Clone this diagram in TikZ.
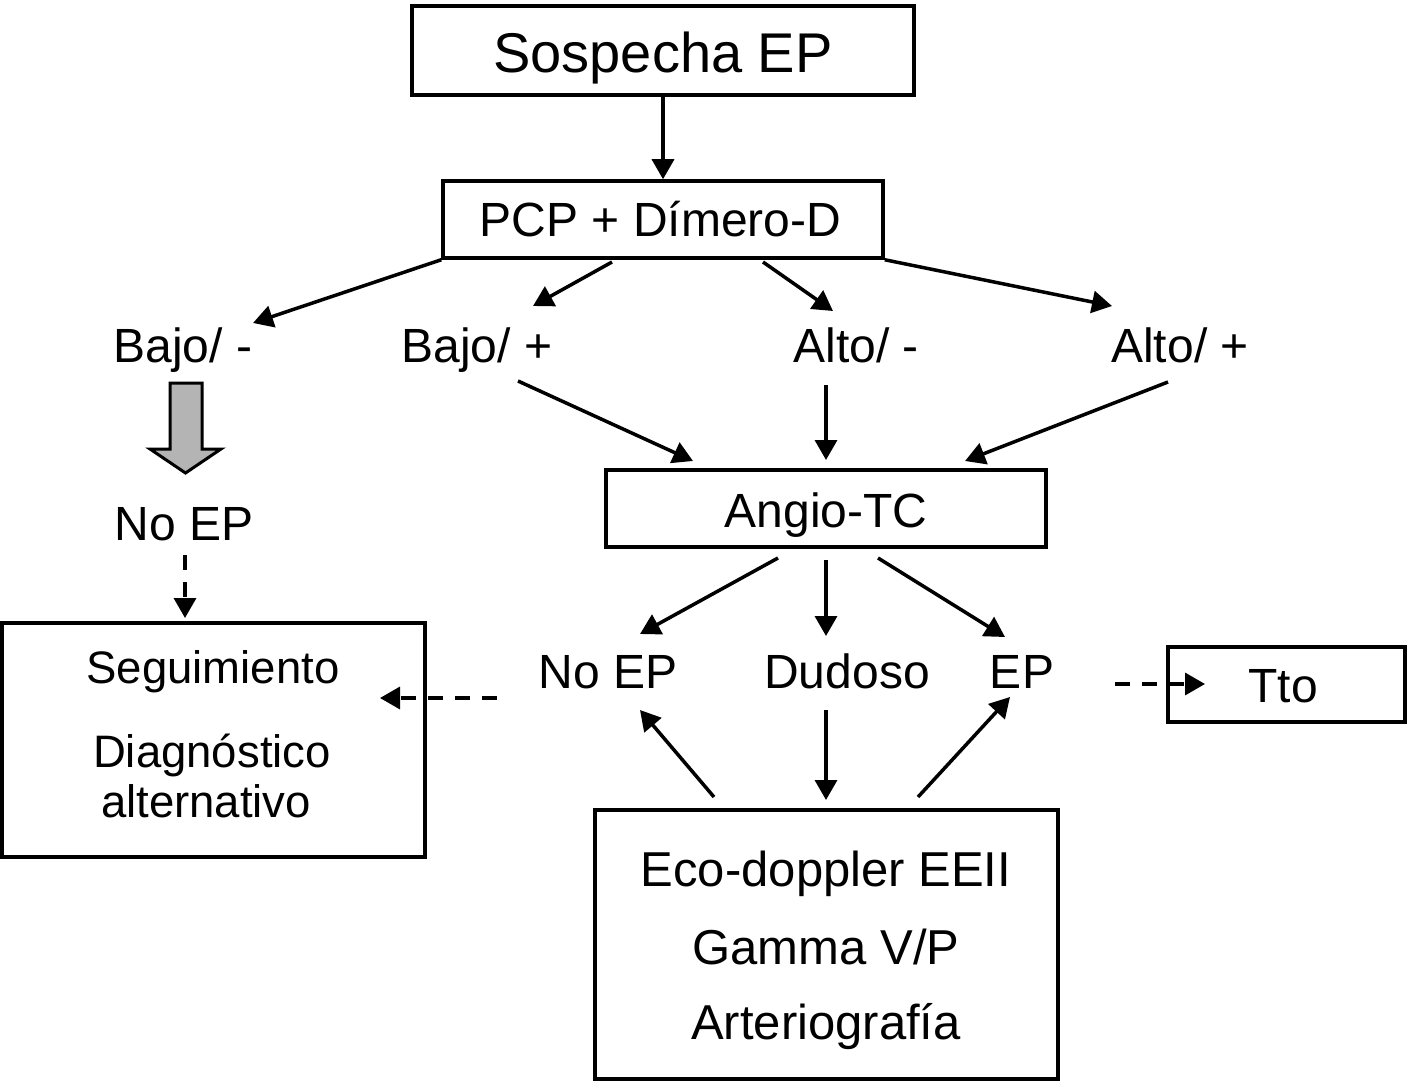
\documentclass[tikz,border=0pt]{standalone}
\usepackage{fontspec}
\setmainfont{Liberation Sans}
\usetikzlibrary{arrows.meta}
\begin{document}
\begin{tikzpicture}[x=1pt,y=-1pt,
  box/.style={draw, line width=3.5pt, inner sep=0pt, text depth=0pt},
  lbl/.style={anchor=base, inner sep=0pt},
  arr/.style={line width=3.5pt, -{Triangle[length=20pt,width=22pt]}},
  darr/.style={arr, dash pattern=on 15pt off 12pt},
  every node/.style={font=\fontsize{48}{52}\selectfont}]
\useasboundingbox (0,0) rectangle (1410,1083);
% boxes
\node[box, minimum width=502pt, minimum height=89pt, text height=45pt, font=\fontsize{56}{60}\selectfont] (sosp) at (663,50.5) {Sospecha EP};
\node[box, minimum width=440pt, minimum height=77pt, text height=35pt] (pcp) at (663,219.5) {\hspace*{-5pt}PCP + Dímero-D};
\node[box, minimum width=440pt, minimum height=77pt, text height=37pt] (angio) at (826,508.5) {Angio-TC};
\node[box, minimum width=237pt, minimum height=75pt, text height=35pt] (tto) at (1286.5,684.5) {\hspace*{-7pt}Tto};
\node[box, minimum width=423pt, minimum height=234pt] (seg) at (213.5,740) {};
\node[box, minimum width=463pt, minimum height=269pt] (prue) at (826.5,944.5) {};
% box texts
\node[lbl, font=\fontsize{45.5}{48}\selectfont] (seg1) at (213,683) {Seguimiento};
\node[lbl, font=\fontsize{45.5}{48}\selectfont] (seg2) at (212,767) {Diagnóstico};
\node[lbl, font=\fontsize{45.5}{48}\selectfont] (seg3) at (206,817) {alternativo};
\node[lbl, font=\fontsize{49}{52}\selectfont] (pr1) at (826,886) {Eco-doppler EEII};
\node[lbl, font=\fontsize{49}{52}\selectfont] (pr2) at (826,964) {Gamma V/P};
\node[lbl, font=\fontsize{49}{52}\selectfont] (pr3) at (826,1039) {Arteriografía};
% labels
\node[lbl] (bm) at (183,362) {Bajo/ -};
\node[lbl] (bp) at (477,362) {Bajo/ +};
\node[lbl] (am) at (856,362) {Alto/ -};
\node[lbl] (ap) at (1180,362) {Alto/ +};
\node[lbl] (noep1) at (184,540) {No EP};
\node[lbl] (noep2) at (608,688) {No EP};
\node[lbl] (dud) at (847,688) {Dudoso};
\node[lbl] (ep) at (1022,688) {EP};
% coordinates
\coordinate (c1) at (253,323);
\coordinate (c2s) at (612,262); \coordinate (c2) at (533,306);
\coordinate (c3s) at (763,262); \coordinate (c3) at (833,311);
\coordinate (c4) at (1112,306);
\coordinate (d1s) at (518,381); \coordinate (d1) at (693,461);
\coordinate (d2s) at (826,385); \coordinate (d2) at (826,460);
\coordinate (d3s) at (1168,382); \coordinate (d3) at (965,461);
\coordinate (e1s) at (778,558); \coordinate (e1) at (640,634);
\coordinate (e2s) at (826,560); \coordinate (e2) at (826,636);
\coordinate (e3s) at (878,558); \coordinate (e3) at (1005,637);
\coordinate (f1s) at (714,797); \coordinate (f1) at (640,710);
\coordinate (f2s) at (826,710); \coordinate (f2) at (826,800);
\coordinate (f3s) at (918,797); \coordinate (f3) at (1010,697);
\coordinate (g1s) at (185,555); \coordinate (g1) at (185,618);
\coordinate (g2s) at (497,698); \coordinate (g2) at (380,698);
\coordinate (g3s) at (1115,684); \coordinate (g3) at (1205,684);
% connectors
\draw[arr] (sosp.south) -- (pcp.north);
\draw[arr] (pcp.south west) -- (c1);
\draw[arr] (c2s) -- (c2);
\draw[arr] (c3s) -- (c3);
\draw[arr] (pcp.south east) -- (c4);
\draw[arr] (d1s) -- (d1);
\draw[arr] (d2s) -- (d2);
\draw[arr] (d3s) -- (d3);
\draw[arr] (e1s) -- (e1);
\draw[arr] (e2s) -- (e2);
\draw[arr] (e3s) -- (e3);
\draw[arr] (f1s) -- (f1);
\draw[arr] (f2s) -- (f2);
\draw[arr] (f3s) -- (f3);
\draw[darr] (g1s) -- (g1);
\draw[darr] (g2s) -- (g2);
\draw[darr] (g3s) -- (g3);
% gray block arrow
\draw[line width=3pt, fill={rgb,255:red,180;green,180;blue,180}, line join=miter]
  (170,383) -- (202,383) -- (202,449) -- (221,449) -- (185.5,473) -- (150,449) -- (170,449) -- cycle;
\end{tikzpicture}
\end{document}
